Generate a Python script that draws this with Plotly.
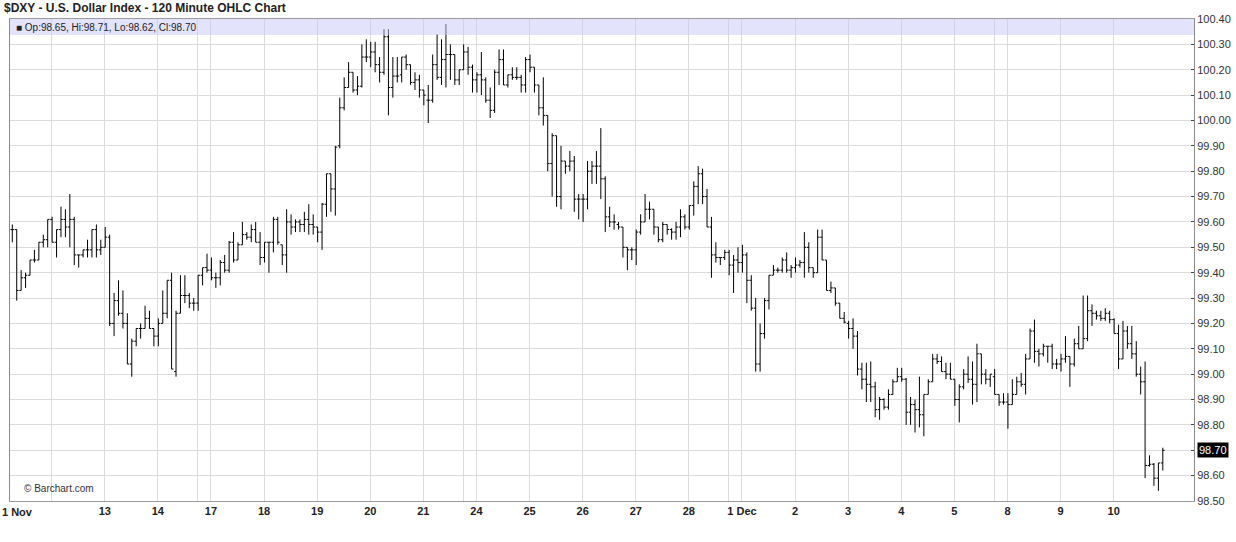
import plotly.graph_objects as go

# ---------------- data (120-minute OHLC bars, $DXY) ----------------
opens = [99.57, 99.57, 99.33, 99.38, 99.39, 99.45, 99.45, 99.52, 99.53, 99.61,
         99.52, 99.57, 99.61, 99.58, 99.61, 99.47, 99.47, 99.49, 99.49, 99.57,
         99.49, 99.50, 99.54, 99.20, 99.29, 99.24, 99.20, 99.04, 99.13, 99.18,
         99.18, 99.22, 99.18, 99.15, 99.20, 99.24, 99.37, 99.01, 99.24, 99.31,
         99.31, 99.28, 99.28, 99.39, 99.42, 99.41, 99.38, 99.38, 99.44, 99.41,
         99.52, 99.45, 99.51, 99.55, 99.54, 99.57, 99.52, 99.46, 99.52, 99.52,
         99.61, 99.51, 99.47, 99.60, 99.58, 99.60, 99.59, 99.61, 99.59, 99.58,
         99.56, 99.67, 99.79, 99.73, 99.90, 100.05, 100.13, 100.19, 100.12, 100.135,
         100.25, 100.25, 100.27, 100.22, 100.19, 100.33, 100.13, 100.175, 100.18, 100.25,
         100.22, 100.15, 100.16, 100.12, 100.08, 100.08, 100.22, 100.17, 100.24, 100.26,
         100.26, 100.16, 100.20, 100.27, 100.21, 100.16, 100.18, 100.16, 100.08, 100.04,
         100.19, 100.24, 100.14, 100.18, 100.17, 100.17, 100.14, 100.24, 100.21, 100.14,
         100.05, 100.02, 99.83, 99.94, 99.70, 99.84, 99.82, 99.84, 99.69, 99.69,
         99.69, 99.80, 99.82, 99.82, 99.77, 99.62, 99.60, 99.59, 99.58, 99.50,
         99.49, 99.49, 99.56, 99.60, 99.65, 99.65, 99.58, 99.53, 99.59, 99.57,
         99.56, 99.58, 99.62, 99.58, 99.665, 99.74, 99.79, 99.70, 99.58, 99.47,
         99.46, 99.46, 99.48, 99.43, 99.45, 99.44, 99.47, 99.37, 99.26, 99.04,
         99.16, 99.29, 99.39, 99.41, 99.41, 99.45, 99.41, 99.42, 99.43, 99.44,
         99.50, 99.42, 99.40, 99.54, 99.45, 99.33, 99.34, 99.28, 99.22, 99.20,
         99.18, 99.15, 99.02, 98.98, 98.96, 98.95, 98.86, 98.90, 98.87, 98.92,
         98.97, 98.99, 98.98, 98.85, 98.88, 98.86, 98.84, 98.92, 98.97, 99.06,
         99.05, 99.01, 99.00, 98.98, 98.90, 98.95, 99.00, 98.98, 98.96, 99.08,
         99.00, 98.98, 98.99, 98.92, 98.89, 98.89, 98.88, 98.92, 98.97, 98.96,
         99.06, 99.17, 99.09, 99.08, 99.11, 99.11, 99.04, 99.04, 99.06, 99.07,
         99.04, 99.12, 99.10, 99.14, 99.25, 99.24, 99.23, 99.22, 99.24, 99.215,
         99.16, 99.06, 99.17, 99.12, 99.08, 99.00, 98.97, 98.64, 98.645, 98.59,
         98.65]
highs = [99.59, 99.57, 99.41, 99.40, 99.45, 99.49, 99.52, 99.55, 99.61, 99.62,
         99.57, 99.66, 99.65, 99.71, 99.62, 99.47, 99.49, 99.53, 99.57, 99.59,
         99.53, 99.58, 99.55, 99.32, 99.37, 99.33, 99.24, 99.14, 99.18, 99.20,
         99.27, 99.25, 99.18, 99.22, 99.33, 99.37, 99.40, 99.25, 99.39, 99.39,
         99.32, 99.30, 99.39, 99.42, 99.475, 99.46, 99.40, 99.45, 99.47, 99.525,
         99.56, 99.52, 99.60, 99.56, 99.59, 99.60, 99.56, 99.52, 99.52, 99.62,
         99.62, 99.51, 99.65, 99.63, 99.61, 99.61, 99.64, 99.67, 99.63, 99.58,
         99.675, 99.79, 99.79, 99.90, 100.09, 100.17, 100.23, 100.19, 100.175, 100.30,
         100.32, 100.31, 100.31, 100.25, 100.36, 100.36, 100.25, 100.25, 100.25, 100.26,
         100.22, 100.19, 100.18, 100.12, 100.14, 100.26, 100.34, 100.32, 100.38, 100.30,
         100.26, 100.20, 100.30, 100.29, 100.22, 100.19, 100.27, 100.17, 100.13, 100.20,
         100.28, 100.28, 100.18, 100.21, 100.21, 100.18, 100.25, 100.26, 100.21, 100.14,
         100.17, 100.02, 99.95, 99.94, 99.90, 99.84, 99.88, 99.86, 99.71, 99.71,
         99.84, 99.84, 99.88, 99.97, 99.78, 99.66, 99.63, 99.60, 99.58, 99.50,
         99.50, 99.57, 99.63, 99.71, 99.68, 99.65, 99.58, 99.60, 99.59, 99.575,
         99.60, 99.65, 99.63, 99.665, 99.76, 99.82, 99.81, 99.73, 99.62, 99.52,
         99.46, 99.49, 99.49, 99.47, 99.50, 99.51, 99.48, 99.39, 99.30, 99.20,
         99.30, 99.39, 99.43, 99.42, 99.46, 99.48, 99.43, 99.46, 99.45, 99.56,
         99.52, 99.42, 99.57, 99.57, 99.45, 99.365, 99.34, 99.28, 99.245, 99.21,
         99.22, 99.17, 99.045, 99.045, 99.05, 98.97, 98.91, 98.905, 98.94, 98.98,
         99.025, 99.025, 98.985, 98.91, 98.90, 98.99, 98.92, 98.98, 99.08, 99.08,
         99.07, 99.045, 99.045, 98.98, 98.96, 99.02, 99.07, 99.05, 99.12, 99.08,
         99.02, 99.00, 99.02, 98.92, 98.925, 98.925, 98.98, 98.99, 99.005, 99.08,
         99.18, 99.215, 99.10, 99.12, 99.11, 99.12, 99.06, 99.08, 99.15, 99.07,
         99.14, 99.19, 99.31, 99.31, 99.275, 99.25, 99.25, 99.26, 99.25, 99.22,
         99.195, 99.21, 99.19, 99.19, 99.13, 99.03, 99.05, 98.68, 98.65, 98.65,
         98.71]
lows = [99.52, 99.29, 99.33, 99.34, 99.39, 99.44, 99.45, 99.50, 99.50, 99.52,
        99.46, 99.54, 99.54, 99.50, 99.43, 99.42, 99.46, 99.46, 99.46, 99.46,
        99.47, 99.50, 99.19, 99.15, 99.23, 99.18, 99.04, 98.99, 99.11, 99.14,
        99.18, 99.18, 99.11, 99.11, 99.20, 99.22, 99.02, 98.99, 99.24, 99.28,
        99.26, 99.25, 99.25, 99.35, 99.40, 99.37, 99.34, 99.35, 99.40, 99.40,
        99.44, 99.45, 99.51, 99.53, 99.52, 99.52, 99.43, 99.44, 99.40, 99.48,
        99.51, 99.43, 99.40, 99.55, 99.56, 99.56, 99.56, 99.55, 99.55, 99.52,
        99.49, 99.62, 99.64, 99.625, 99.89, 100.04, 100.13, 100.11, 100.10, 100.13,
        100.23, 100.21, 100.19, 100.15, 100.18, 100.02, 100.09, 100.15, 100.15, 100.20,
        100.14, 100.12, 100.09, 100.06, 99.99, 100.07, 100.16, 100.14, 100.13, 100.16,
        100.14, 100.14, 100.20, 100.18, 100.11, 100.11, 100.10, 100.07, 100.01, 100.03,
        100.14, 100.14, 100.13, 100.16, 100.16, 100.11, 100.11, 100.19, 100.11, 100.02,
        99.98, 99.80, 99.70, 99.66, 99.65, 99.79, 99.80, 99.64, 99.61, 99.60,
        99.65, 99.75, 99.75, 99.69, 99.56, 99.58, 99.57, 99.57, 99.46, 99.41,
        99.45, 99.43, 99.55, 99.60, 99.61, 99.55, 99.52, 99.52, 99.55, 99.53,
        99.53, 99.54, 99.57, 99.57, 99.625, 99.67, 99.67, 99.58, 99.38, 99.44,
        99.43, 99.45, 99.39, 99.32, 99.40, 99.40, 99.28, 99.25, 99.01, 99.01,
        99.14, 99.255, 99.39, 99.40, 99.40, 99.40, 99.38, 99.40, 99.42, 99.38,
        99.40, 99.38, 99.40, 99.45, 99.33, 99.32, 99.27, 99.22, 99.20, 99.14,
        99.10, 98.995, 98.94, 98.89, 98.89, 98.83, 98.82, 98.86, 98.86, 98.92,
        98.97, 98.97, 98.80, 98.80, 98.77, 98.79, 98.755, 98.92, 98.97, 99.04,
        99.01, 98.98, 98.98, 98.875, 98.81, 98.94, 98.965, 98.88, 98.89, 98.96,
        98.96, 98.95, 98.92, 98.875, 98.88, 98.785, 98.88, 98.92, 98.95, 98.92,
        99.06, 99.045, 99.03, 99.07, 99.045, 99.02, 99.02, 99.01, 99.045, 98.95,
        99.03, 99.10, 99.10, 99.13, 99.19, 99.215, 99.21, 99.21, 99.20, 99.16,
        99.02, 99.06, 99.10, 99.06, 98.99, 98.92, 98.59, 98.635, 98.56, 98.54,
        98.62]
closes = [99.57, 99.33, 99.38, 99.39, 99.45, 99.45, 99.52, 99.53, 99.61, 99.52,
          99.57, 99.61, 99.58, 99.61, 99.47, 99.47, 99.49, 99.49, 99.57, 99.49,
          99.50, 99.54, 99.20, 99.29, 99.24, 99.20, 99.04, 99.13, 99.18, 99.18,
          99.22, 99.18, 99.15, 99.20, 99.24, 99.37, 99.02, 99.24, 99.31, 99.31,
          99.28, 99.28, 99.39, 99.42, 99.41, 99.38, 99.38, 99.44, 99.41, 99.52,
          99.45, 99.51, 99.55, 99.54, 99.57, 99.52, 99.46, 99.52, 99.52, 99.61,
          99.52, 99.47, 99.60, 99.58, 99.60, 99.59, 99.61, 99.59, 99.58, 99.56,
          99.67, 99.79, 99.73, 99.895, 100.05, 100.13, 100.19, 100.12, 100.135, 100.25,
          100.25, 100.27, 100.22, 100.19, 100.33, 100.13, 100.175, 100.175, 100.25, 100.22,
          100.15, 100.16, 100.12, 100.10, 100.08, 100.22, 100.17, 100.24, 100.26, 100.26,
          100.16, 100.20, 100.27, 100.21, 100.16, 100.18, 100.16, 100.08, 100.04, 100.19,
          100.24, 100.14, 100.18, 100.17, 100.17, 100.14, 100.24, 100.21, 100.14, 100.05,
          100.02, 99.83, 99.94, 99.70, 99.84, 99.82, 99.84, 99.69, 99.69, 99.69,
          99.80, 99.82, 99.82, 99.77, 99.62, 99.60, 99.60, 99.58, 99.50, 99.49,
          99.49, 99.56, 99.60, 99.65, 99.65, 99.58, 99.53, 99.59, 99.57, 99.56,
          99.58, 99.62, 99.58, 99.665, 99.74, 99.79, 99.70, 99.58, 99.47, 99.46,
          99.46, 99.48, 99.43, 99.45, 99.44, 99.47, 99.37, 99.26, 99.04, 99.16,
          99.29, 99.39, 99.41, 99.41, 99.45, 99.41, 99.42, 99.43, 99.44, 99.50,
          99.42, 99.40, 99.54, 99.45, 99.33, 99.34, 99.28, 99.22, 99.205, 99.18,
          99.15, 99.02, 98.98, 98.96, 98.95, 98.86, 98.90, 98.87, 98.92, 98.97,
          98.99, 98.98, 98.85, 98.88, 98.86, 98.84, 98.92, 98.97, 99.06, 99.05,
          99.01, 99.00, 98.98, 98.90, 98.95, 99.00, 98.98, 98.96, 99.08, 99.00,
          98.98, 99.00, 98.92, 98.89, 98.89, 98.88, 98.92, 98.97, 98.96, 99.06,
          99.17, 99.09, 99.08, 99.11, 99.11, 99.04, 99.04, 99.06, 99.07, 99.04,
          99.12, 99.10, 99.14, 99.25, 99.24, 99.23, 99.22, 99.24, 99.215, 99.16,
          99.06, 99.17, 99.12, 99.08, 99.00, 98.97, 98.64, 98.645, 98.59, 98.65,
          98.70]

first_label = "1 Nov"
day_labels = ["13", "14", "17", "18", "19", "20", "21", "24", "25", "26",
              "27", "28", "1 Dec", "2", "3", "4", "5", "8", "9", "10"]
price_ticks = [98.50, 98.60, 98.70, 98.80, 98.90, 99.00, 99.10, 99.20, 99.30, 99.40,
               99.50, 99.60, 99.70, 99.80, 99.90, 100.00, 100.10, 100.20, 100.30, 100.40]
title_text = "$DXY - U.S. Dollar Index - 120 Minute OHLC Chart"
info_text = "Op:98.65, Hi:98.71, Lo:98.62, Cl:98.70"
last_price = 98.70

# ---------------- layout helpers ----------------
BARS_PER_DAY = 12
FIRST_SESSION_BARS = 9           # bars before the first midnight
n = len(closes)
x = list(range(n))

first_mid = FIRST_SESSION_BARS - 0.1
label_pos = [first_mid + BARS_PER_DAY * (k + 1) for k in range(len(day_labels))]
week_open_pos = [first_mid + BARS_PER_DAY * k - 3 for k in (3, 8, 13, 18)]
grid_pos = [first_mid] + label_pos + week_open_pos
grid_text = [""] + day_labels + [""] * len(week_open_pos)

W, H = 1236, 542
ML, MR, MT, MB = 10, 42, 19, 41
PW, PH = W - ML - MR, H - MT - MB
px_per_bar = 4.425
x0 = -2.3 / px_per_bar             # first bar sits ~2.3px inside the frame
x_range = [x0, x0 + PW / px_per_bar]

FONT = "Liberation Sans, Arial, Helvetica, sans-serif"

fig = go.Figure(go.Ohlc(
    x=x, open=opens, high=highs, low=lows, close=closes,
    increasing=dict(line=dict(color="#000000", width=1)),
    decreasing=dict(line=dict(color="#000000", width=1)),
    tickwidth=0.42, showlegend=False, hoverinfo="skip",
))

def px_x(p):   # page pixel -> paper x
    return (p - ML) / PW

def px_y(p):   # page pixel -> paper y
    return (H - MB - p) / PH

fig.update_layout(
    width=W, height=H,
    margin=dict(l=ML, r=MR, t=MT, b=MB, pad=0, autoexpand=False),
    paper_bgcolor="white", plot_bgcolor="white",
    font=dict(family=FONT, size=11, color="#222"),
    xaxis=dict(
        range=x_range, rangeslider=dict(visible=False), automargin=False,
        tickmode="array", tickvals=grid_pos, ticktext=grid_text,
        showgrid=True, gridcolor="#dcdcdc", gridwidth=1,
        showline=True, linecolor="#9a9a9a", linewidth=1, mirror=True,
        ticks="", zeroline=False,
        tickfont=dict(family=FONT, size=11, color="#222", weight="bold"),
    ),
    yaxis=dict(
        side="right", range=[98.50, 100.40], automargin=False,
        tickmode="array", tickvals=price_ticks,
        ticktext=[f"{v:.2f}" for v in price_ticks],
        showgrid=True, gridcolor="#dcdcdc", gridwidth=1,
        showline=True, linecolor="#8a8a8a", linewidth=1, mirror=True,
        ticks="inside", ticklen=3, tickcolor="#444",
        zeroline=False,
        tickfont=dict(family=FONT, size=11, color="#333"),
    ),
    shapes=[dict(type="rect", xref="paper", yref="paper",
                 x0=0, x1=1, y0=px_y(35), y1=1, line=dict(width=0),
                 fillcolor="rgba(200,200,248,0.5)", layer="above")],
    annotations=[
        dict(text="<b>" + title_text + "</b>", xref="paper", yref="paper",
             x=px_x(2), y=px_y(8), xanchor="left", yanchor="middle",
             showarrow=False, font=dict(family=FONT, size=12, color="#222")),
        dict(text="■ " + info_text, xref="paper", yref="paper",
             x=px_x(14), y=px_y(27.5), xanchor="left", yanchor="middle",
             showarrow=False, font=dict(family=FONT, size=10, color="#222")),
        dict(text="© Barchart.com", xref="paper", yref="paper",
             x=px_x(22), y=px_y(488.5), xanchor="left", yanchor="middle",
             showarrow=False, font=dict(family=FONT, size=10, color="#333")),
        dict(text="<b>" + first_label + "</b>", xref="paper", yref="paper",
             x=px_x(0), y=px_y(512), xanchor="left", yanchor="middle",
             showarrow=False, font=dict(family=FONT, size=11, color="#222")),
        dict(text=f"{last_price:.2f}", xref="paper", yref="y",
             x=px_x(1196.5), y=last_price, xanchor="left", yanchor="middle",
             showarrow=False, bgcolor="#000000", borderpad=1,
             font=dict(family=FONT, size=11, color="#ffffff")),
    ],
)

fig.write_html(
    "out.html",
    config={"displayModeBar": False, "staticPlot": True},
    post_script="document.body.style.margin='0';document.body.style.padding='0';"
                "document.body.style.overflow='hidden';",
)
